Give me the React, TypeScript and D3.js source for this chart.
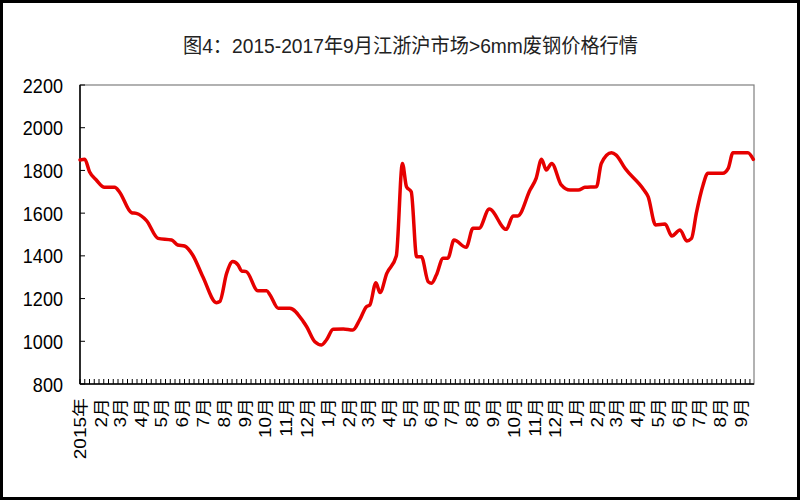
import React from "react";
import * as d3 from "d3";

const TITLE = "图4：2015-2017年9月江浙沪市场>6mm废钢价格行情";

const dates: string[] = [
  "2015-01-01","2015-01-08","2015-01-15","2015-01-25","2015-02-06","2015-02-21","2015-02-28",
  "2015-03-18","2015-03-25","2015-04-09","2015-04-26","2015-05-16","2015-05-25","2015-06-04",
  "2015-06-16","2015-07-01","2015-07-21","2015-07-26","2015-08-05","2015-08-14","2015-08-22",
  "2015-08-27","2015-09-03","2015-09-20","2015-10-03","2015-10-08","2015-10-20","2015-11-06",
  "2015-11-26","2015-12-01","2015-12-13","2015-12-23","2015-12-30","2016-01-09","2016-01-24",
  "2016-02-07","2016-02-17","2016-02-27","2016-03-03","2016-03-12","2016-03-18","2016-03-28",
  "2016-04-11","2016-04-20","2016-04-26","2016-05-03","2016-05-11","2016-05-18","2016-05-28",
  "2016-06-02","2016-06-09","2016-06-19","2016-06-26","2016-07-05","2016-07-23","2016-08-02",
  "2016-08-11","2016-08-26","2016-09-20","2016-09-30","2016-10-07","2016-10-25","2016-11-03",
  "2016-11-11","2016-11-18","2016-11-26","2016-12-10","2016-12-23","2017-01-04","2017-01-14",
  "2017-01-31","2017-02-07","2017-02-22","2017-03-01","2017-03-14","2017-04-10","2017-04-17",
  "2017-04-28","2017-05-12","2017-05-22","2017-06-03","2017-06-13","2017-06-20","2017-06-27",
  "2017-07-07","2017-07-14","2017-08-05","2017-08-13","2017-08-20","2017-08-27","2017-09-11",
  "2017-09-19",
];

const prices: number[] = [
  1849,1852,1794,1755,1721,1721,1700,
  1602,1599,1565,1482,1474,1451,1446,
  1404,1302,1181,1186,1318,1373,1357,
  1329,1326,1237,1237,1217,1155,1155,
  1092,1068,998,983,1006,1056,1058,
  1053,1100,1162,1170,1274,1228,1318,
  1399,1833,1724,1700,1396,1396,1279,
  1272,1310,1389,1389,1474,1440,1529,
  1529,1619,1524,1587,1587,1708,1763,
  1852,1802,1833,1732,1708,1708,1721,
  1724,1833,1883,1872,1810,1712,1677,
  1545,1549,1493,1521,1470,1482,1599,
  1732,1787,1787,1810,1883,1883,1883,
  1852,
];

const yTicks: number[] = [800, 1000, 1200, 1400, 1600, 1800, 2000, 2200];

const xLabels: string[] = [
  "2015年","2月","3月","4月","5月","6月","7月","8月","9月","10月","11月","12月",
  "1月","2月","3月","4月","5月","6月","7月","8月","9月","10月","11月","12月",
  "1月","2月","3月","4月","5月","6月","7月","8月","9月",
];

const W = 800;
const H = 500;
const left = 80;
const right = 754;
const top = 85;
const bottom = 384;

const parse = d3.timeParse("%Y-%m-%d");
const FONT = "'Liberation Sans', Arial, 'Noto Sans CJK SC', sans-serif";

export default function App() {
  const start = parse("2015-01-01") as Date;
  const end = parse("2017-09-20") as Date;
  const x = d3.scaleTime().domain([start, end]).range([left, right]);
  const y = d3.scaleLinear().domain([800, 2200]).range([bottom, top]);

  const pts = dates.map((d, i) => ({ date: parse(d) as Date, v: prices[i] }));
  const line = d3
    .line<{ date: Date; v: number }>()
    .x((d) => x(d.date))
    .y((d) => y(d.v))
    .curve(d3.curveMonotoneX);

  const weekTicks = d3.timeThursday.range(start, d3.timeDay.offset(end, 1));
  const monthTicks = d3.timeMonth.range(start, d3.timeDay.offset(end, 1));

  return (
    <svg
      width={W}
      height={H}
      style={{ position: "absolute", left: 0, top: 0, background: "#fff" }}
      fontFamily={FONT}
    >
      <rect x={0} y={0} width={W} height={H} fill="#fff" />
      <rect x={1.5} y={1.5} width={W - 3} height={H - 3} fill="none" stroke="#000" strokeWidth={3} />

      <text
        x={410.5}
        y={53}
        textAnchor="middle"
        fontSize={20}
        fill="#222"
        textLength={455}
        lengthAdjust="spacingAndGlyphs"
      >
        {TITLE}
      </text>

      {/* plot frame */}
      <rect
        x={left}
        y={top}
        width={right - left}
        height={bottom - top}
        fill="none"
        stroke="#7f7f7f"
        strokeWidth={1.2}
      />
      <line x1={left} x2={left} y1={top} y2={bottom} stroke="#000" strokeWidth={1.5} />
      <line x1={left} x2={right} y1={bottom} y2={bottom} stroke="#000" strokeWidth={1.5} />

      {/* y ticks and labels */}
      {yTicks.map((t) => (
        <g key={t}>
          <line x1={left} x2={left + 5} y1={y(t)} y2={y(t)} stroke="#000" strokeWidth={1} />
          <g transform={`translate(63,${y(t)}) scale(0.86,1)`}>
            <text x={0} y={0} dy="0.36em" textAnchor="end" fontSize={21} fill="#000">
              {t}
            </text>
          </g>
        </g>
      ))}

      {/* x weekly ticks */}
      {weekTicks.map((d, i) => (
        <line
          key={i}
          x1={x(d)}
          x2={x(d)}
          y1={bottom}
          y2={bottom - 5}
          stroke="#000"
          strokeWidth={1}
        />
      ))}

      {/* month labels */}
      {monthTicks.map((d, i) => (
        <g key={i} transform={`translate(${x(d)},398) scale(0.86,1) rotate(-90)`}>
          <text x={0} y={0} dy="0.36em" textAnchor="end" fontSize={19} fill="#000">
            {xLabels[i]}
          </text>
        </g>
      ))}

      <path
        d={line(pts) || ""}
        fill="none"
        stroke="#e60000"
        strokeWidth={3.5}
        strokeLinejoin="round"
        strokeLinecap="round"
      />
    </svg>
  );
}
